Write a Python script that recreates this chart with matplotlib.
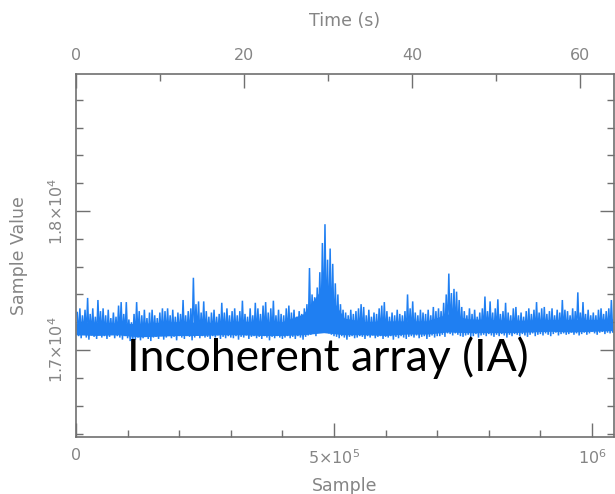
import numpy as np
import matplotlib
matplotlib.use("Agg")
import matplotlib.pyplot as plt
from matplotlib.ticker import MultipleLocator

# ---- data (min/max envelope of the decimated series) ----
core_pos = np.arange(0, 1040001, 40000)          # sample index of envelope points
core_lo = [17110, 17105, 17110, 17095, 17100, 17105, 17105, 17110, 17110, 17105,
           17105, 17110, 17125, 17110, 17110, 17105, 17115, 17115, 17130, 17125,
           17125, 17125, 17130, 17135, 17130, 17135, 17140]
core_hi = [17195, 17200, 17195, 17190, 17200, 17205, 17200, 17200, 17210, 17200,
           17205, 17260, 17460, 17230, 17205, 17210, 17210, 17210, 17260, 17225,
           17220, 17215, 17215, 17220, 17220, 17220, 17225]

spike_pos = np.arange(2500, 1040000, 5000)       # sample index of envelope columns
spike_hi = [
    17270, 17300, 17250, 17290, 17375, 17260, 17300, 17240, 17360, 17280,
    17300, 17250, 17290, 17230, 17270, 17240, 17320, 17345, 17260, 17345,
    17220, 17200, 17260, 17345, 17280, 17250, 17290, 17230, 17270, 17290,
    17250, 17230, 17270, 17300, 17280, 17300, 17250, 17290, 17240, 17270,
    17260, 17360, 17250, 17280, 17300, 17520, 17330, 17350, 17270, 17350,
    17280, 17240, 17270, 17290, 17240, 17260, 17340, 17270, 17300, 17250,
    17280, 17300, 17250, 17280, 17355, 17260, 17240, 17300, 17250, 17340,
    17300, 17260, 17320, 17345, 17270, 17300, 17355, 17250, 17290, 17260,
    17250, 17300, 17320, 17270, 17290, 17240, 17280, 17260, 17300, 17330,
    17590, 17400, 17380, 17450, 17560, 17770, 17905, 17650, 17730, 17620,
    17480, 17400, 17330, 17290, 17270, 17250, 17290, 17260, 17280, 17300,
    17330, 17310, 17250, 17290, 17240, 17270, 17260, 17300, 17320, 17345,
    17280, 17240, 17270, 17250, 17290, 17260, 17250, 17280, 17400, 17300,
    17350, 17270, 17250, 17290, 17270, 17260, 17290, 17250, 17310, 17280,
    17300, 17280, 17340, 17400, 17550, 17410, 17440, 17420, 17360, 17310,
    17280, 17250, 17300, 17260, 17290, 17240, 17270, 17300, 17385, 17280,
    17350, 17270, 17300, 17365, 17260, 17280, 17340, 17270, 17250, 17300,
    17310, 17250, 17270, 17240, 17280, 17300, 17260, 17290, 17345, 17270,
    17300, 17310, 17260, 17280, 17300, 17250, 17290, 17270, 17360, 17290,
    17280, 17250, 17300, 17280, 17415, 17270, 17345, 17260, 17290, 17250,
    17270, 17250, 17290, 17300, 17260, 17280, 17300, 17360]
spike_lo = [
    17100, 17085, 17110, 17090, 17075, 17105, 17095, 17080, 17110, 17090,
    17100, 17080, 17095, 17110, 17085, 17100, 17090, 17075, 17100, 17085,
    17065, 17060, 17075, 17090, 17070, 17085, 17100, 17080, 17065, 17090,
    17095, 17080, 17100, 17075, 17090, 17105, 17085, 17095, 17070, 17100,
    17090, 17080, 17100, 17095, 17070, 17090, 17105, 17085, 17100, 17090,
    17095, 17080, 17100, 17090, 17105, 17080, 17095, 17085, 17100, 17090,
    17085, 17100, 17075, 17095, 17090, 17105, 17080, 17095, 17100, 17085,
    17095, 17080, 17100, 17090, 17070, 17095, 17085, 17100, 17090, 17080,
    17090, 17100, 17085, 17095, 17080, 17100, 17090, 17075, 17095, 17105,
    17110, 17120, 17100, 17130, 17140, 17150, 17135, 17120, 17110, 17100,
    17095, 17085, 17100, 17090, 17075, 17095, 17100, 17085, 17090, 17100,
    17095, 17080, 17100, 17090, 17105, 17085, 17095, 17100, 17080, 17095,
    17090, 17100, 17075, 17095, 17085, 17100, 17090, 17080, 17095, 17100,
    17090, 17105, 17085, 17095, 17100, 17080, 17095, 17105, 17090, 17100,
    17100, 17110, 17095, 17120, 17115, 17105, 17120, 17110, 17100, 17095,
    17105, 17110, 17095, 17100, 17115, 17090, 17105, 17110, 17100, 17115,
    17105, 17095, 17110, 17100, 17115, 17105, 17090, 17110, 17100, 17115,
    17110, 17100, 17115, 17105, 17095, 17110, 17120, 17100, 17110, 17115,
    17105, 17120, 17110, 17100, 17115, 17125, 17105, 17115, 17120, 17110,
    17115, 17125, 17110, 17120, 17105, 17115, 17125, 17110, 17120, 17130,
    17120, 17110, 17125, 17130, 17115, 17125, 17120, 17130]

x_ticks = [0, 500000, 1000000]
x_ticklabels = ["0", r"$5{\times}10^5$", r"$10^6$"]
y_ticks = [17000, 18000]
y_ticklabels = [r"$1.7{\times}10^4$", r"$1.8{\times}10^4$"]
time_ticks = [0, 20, 40, 60]
sample_time = 6.144e-5  # seconds per sample

# ---- figure ----
W, H = 615, 494
fig = plt.figure(figsize=(W / 100, H / 100), dpi=100)
L, R, T, B = 76, 614, 74, 437
ax = fig.add_axes([L / W, 1 - B / H, (R - L) / W, (B - T) / H])

blue = "#1f7ff2"
grey = "#858585"
spine_c = "#707070"

# dense core of the noise band
ax.fill_between(core_pos, core_lo, core_hi, color=blue, lw=0)
# min/max envelope drawn as a zig-zag trace
n = len(spike_pos)
zx = np.empty(2 * n)
zy = np.empty(2 * n)
zx[0::2] = spike_pos
zx[1::2] = spike_pos + 2500
zy[0::2] = spike_hi
zy[1::2] = spike_lo
ax.plot(zx, zy, color=blue, lw=1.1, solid_joinstyle="miter")

xmax = 1042600
ax.set_xlim(0, xmax)
ax.set_ylim(16375, 18985)

for s in ax.spines.values():
    s.set_color(spine_c)
    s.set_linewidth(1.2)

ax.set_xticks(x_ticks)
ax.set_xticklabels(x_ticklabels)
ax.xaxis.set_minor_locator(MultipleLocator(100000))
ax.set_yticks(y_ticks)
ax.set_yticklabels(y_ticklabels, rotation=90, va="center")
ax.yaxis.set_minor_locator(MultipleLocator(200))
ax.tick_params(which="both", direction="in", color=spine_c, labelcolor=grey,
               labelsize=11.5, right=True, top=False)
ax.tick_params(which="major", length=10, width=1)
ax.tick_params(which="minor", length=5, width=1)
ax.tick_params(axis="x", pad=8)
ax.tick_params(axis="y", pad=7)

ax.set_xlabel("Sample", color=grey, fontsize=12.5, labelpad=7)
ax.set_ylabel("Sample Value", color=grey, fontsize=12.5, labelpad=14)

ax2 = ax.twiny()
ax2.set_xlim(0, xmax * sample_time)
ax2.set_xticks(time_ticks)
ax2.xaxis.set_minor_locator(MultipleLocator(10))
ax2.tick_params(which="both", direction="in", color=spine_c, labelcolor=grey,
                labelsize=11.5, pad=8)
ax2.tick_params(which="major", length=10, width=1)
ax2.tick_params(which="minor", length=5, width=1)
ax2.set_xlabel("Time (s)", color=grey, fontsize=12.5, labelpad=16)
for s in ax2.spines.values():
    s.set_visible(False)

fig.text(328 / W, 1 - 358 / H, "Incoherent array (IA)", fontsize=32,
         family="Lato", color="black", ha="center", va="center")

fig.savefig("out.png", dpi=100)
